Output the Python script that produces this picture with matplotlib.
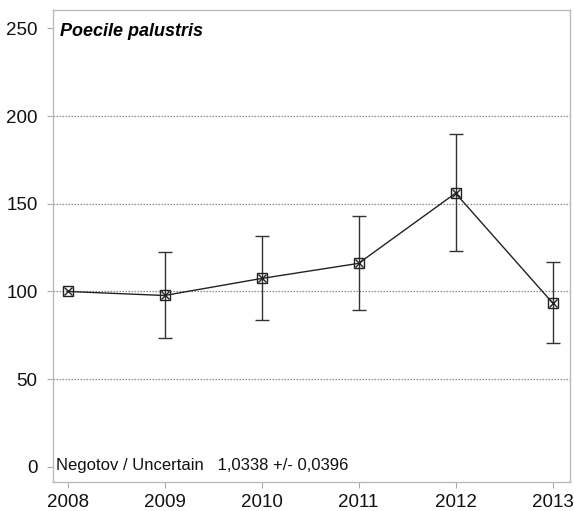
import matplotlib
matplotlib.use("Agg")
import matplotlib.pyplot as plt

years = [2008, 2009, 2010, 2011, 2012, 2013]
index_values = [100, 97.7, 107.4, 116.0, 156.0, 93.5]
upper = [None, 122.3, 131.4, 142.9, 189.5, 117.0]
lower = [None, 73.7, 84.0, 89.7, 123.0, 70.9]
y_ticks = [0, 50, 100, 150, 200, 250]
grid_levels = [50, 100, 150, 200]
title = "Poecile palustris"
note = "Negotov / Uncertain   1,0338 +/- 0,0396"

plt.rcParams['font.family'] = ['Liberation Sans', 'DejaVu Sans']

fig = plt.figure(figsize=(5.74, 5.11), dpi=100)
ax = fig.add_axes([0.0923, 0.0568, 0.9007, 0.9232])

for g in grid_levels:
    ax.axhline(g, color='#888888', linestyle=(0, (1.2, 1.2)), linewidth=0.9, zorder=1)

# error bars
for x, v, u, l in zip(years, index_values, upper, lower):
    if u is None:
        continue
    ax.errorbar([x], [v], yerr=[[v - l], [u - v]], fmt='none', ecolor='#333333',
                elinewidth=1.0, capsize=5, capthick=1.0, zorder=2)

ax.plot(years, index_values, color='#222222', linewidth=1.0, zorder=3)
ax.plot(years, index_values, linestyle='none', marker='s', markersize=7,
        markerfacecolor='none', markeredgecolor='#222222', markeredgewidth=1.0, zorder=4)
ax.plot(years, index_values, linestyle='none', marker='x', markersize=6,
        markeredgecolor='#222222', markeredgewidth=1.0, zorder=4)

ax.set_xlim(2007.85, 2013.18)
ax.set_ylim(-8.6, 260.3)
ax.set_yticks(y_ticks)
ax.set_xticks(years)
ax.set_xticklabels([str(y) for y in years])
ax.tick_params(axis='both', labelsize=13.5, color='#aaaaaa', length=4, width=0.8,
               labelcolor='#111111')
ax.tick_params(axis='x', pad=5)
ax.tick_params(axis='y', pad=7)

for s in ax.spines.values():
    s.set_color('#bbbbbb')
    s.set_linewidth(1.0)

ax.text(0.013, 0.972, title, transform=ax.transAxes, fontsize=13,
        fontweight='bold', fontstyle='italic', va='top', ha='left')
ax.text(0.005, 0.02, note, transform=ax.transAxes, fontsize=12,
        va='bottom', ha='left', color='#111111')

fig.savefig("out.png", dpi=100)
